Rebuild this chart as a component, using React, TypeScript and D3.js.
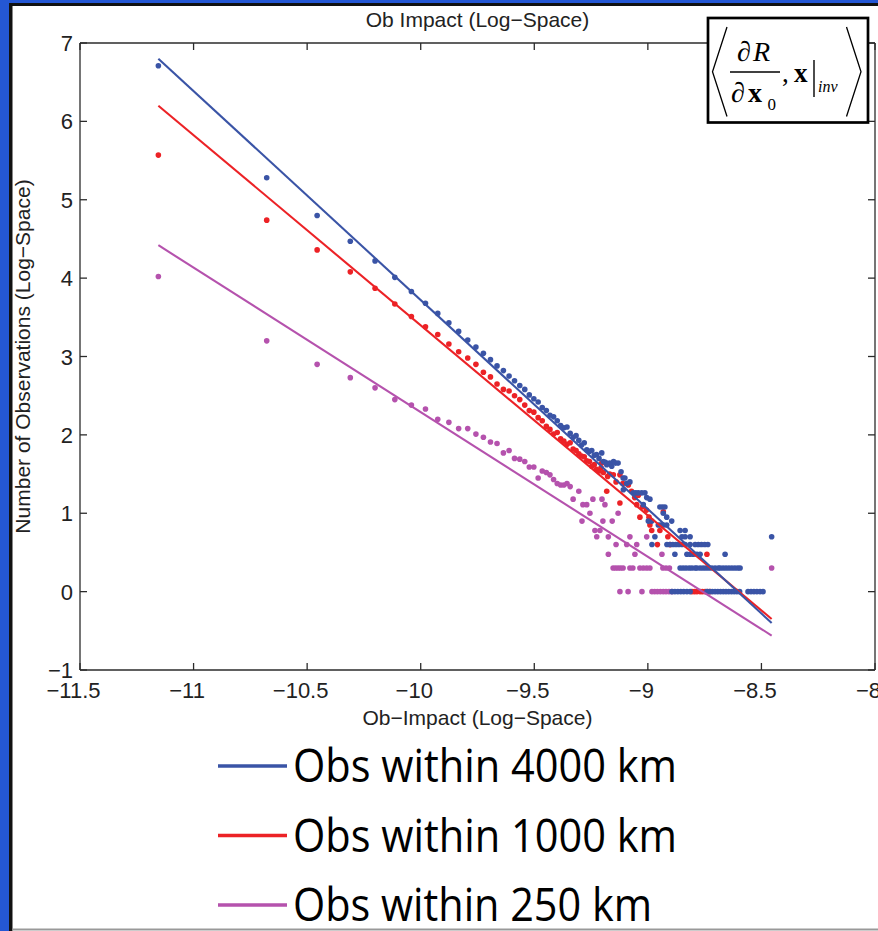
import React from 'react';
import * as d3 from 'd3';

// ---------- data (log10 space) ----------
const xTicks = [-11.5, -11, -10.5, -10, -9.5, -9, -8.5, -8];
const yTicks = [-1, 0, 1, 2, 3, 4, 5, 6, 7];

const fitX = [-11.155, -8.455];
const fit4000 = [6.8, -0.4];
const fit1000 = [6.2, -0.35];
const fit250 = [4.42, -0.56];

const legendLabels = ['Obs within 4000 km', 'Obs within 1000 km', 'Obs within 250 km'];

const obs4000: [number, number][] = [
  [-11.155, 6.71], [-10.678, 5.28], [-10.456, 4.8], [-10.31, 4.47], [-10.201, 4.22], [-10.114, 4.01],
  [-10.041, 3.83], [-9.979, 3.68], [-9.925, 3.55], [-9.876, 3.43], [-9.833, 3.32], [-9.793, 3.21],
  [-9.757, 3.12], [-9.724, 3.04], [-9.693, 2.96], [-9.664, 2.88], [-9.636, 2.82], [-9.611, 2.75],
  [-9.587, 2.69], [-9.564, 2.63], [-9.542, 2.58], [-9.522, 2.51], [-9.502, 2.46], [-9.483, 2.42],
  [-9.465, 2.35], [-9.447, 2.31], [-9.431, 2.25], [-9.415, 2.23], [-9.399, 2.18], [-9.384, 2.12],
  [-9.37, 2.09], [-9.356, 2.1], [-9.342, 2.02], [-9.329, 1.97], [-9.316, 1.99], [-9.304, 1.93],
  [-9.292, 1.87], [-9.28, 1.9], [-9.269, 1.81], [-9.257, 1.79], [-9.247, 1.8], [-9.236, 1.74],
  [-9.226, 1.75], [-9.215, 1.7], [-9.203, 1.77], [-9.196, 1.66], [-9.187, 1.65], [-9.181, 1.62],
  [-9.168, 1.64], [-9.159, 1.6], [-9.151, 1.66], [-9.142, 1.64], [-9.131, 1.64], [-9.118, 1.53],
  [-9.109, 1.45], [-9.101, 1.45], [-9.093, 1.38], [-9.079, 1.4], [-9.108, 1.3], [-9.064, 1.26],
  [-9.053, 1.26], [-9.042, 1.26], [-9.027, 1.26], [-9.013, 1.26], [-9.005, 1.2], [-8.991, 1.18],
  [-9.02, 1.11], [-8.947, 1.08], [-8.936, 1.08], [-8.925, 1.08], [-8.932, 1.0], [-8.917, 0.95],
  [-8.998, 0.9], [-8.983, 0.9], [-8.895, 0.9], [-8.954, 0.85], [-8.943, 0.85], [-8.932, 0.85],
  [-8.917, 0.85], [-8.858, 0.78], [-8.836, 0.78], [-8.969, 0.7], [-8.85, 0.7], [-8.836, 0.7],
  [-8.814, 0.7], [-8.455, 0.7],
  [-8.982, 0.602], [-8.916, 0.602], [-8.903, 0.602], [-8.89, 0.602], [-8.877, 0.602], [-8.864, 0.602],
  [-8.85, 0.602], [-8.836, 0.602], [-8.814, 0.602], [-8.792, 0.602], [-8.778, 0.602], [-8.764, 0.602],
  [-8.75, 0.602], [-8.736, 0.602],
  [-8.881, 0.477], [-8.828, 0.477], [-8.814, 0.477], [-8.8, 0.477], [-8.784, 0.477], [-8.77, 0.477],
  [-8.66, 0.477],
  [-8.858, 0.301], [-8.845, 0.301], [-8.832, 0.301], [-8.818, 0.301], [-8.806, 0.301], [-8.792, 0.301],
  [-8.784, 0.301], [-8.77, 0.301], [-8.757, 0.301], [-8.744, 0.301], [-8.731, 0.301], [-8.718, 0.301],
  [-8.704, 0.301], [-8.69, 0.301], [-8.682, 0.301], [-8.669, 0.301], [-8.656, 0.301], [-8.643, 0.301],
  [-8.63, 0.301], [-8.617, 0.301], [-8.604, 0.301], [-8.594, 0.301],
  [-8.894, 0], [-8.881, 0], [-8.868, 0], [-8.855, 0], [-8.842, 0], [-8.828, 0], [-8.814, 0],
  [-8.74, 0], [-8.728, 0], [-8.716, 0], [-8.704, 0], [-8.692, 0], [-8.68, 0], [-8.668, 0],
  [-8.656, 0], [-8.644, 0], [-8.632, 0], [-8.62, 0], [-8.608, 0], [-8.596, 0],
  [-8.559, 0], [-8.546, 0], [-8.533, 0], [-8.52, 0], [-8.506, 0], [-8.493, 0],
];

const obs1000: [number, number][] = [
  [-11.155, 5.57], [-10.678, 4.74], [-10.456, 4.36], [-10.31, 4.08], [-10.201, 3.87], [-10.114, 3.67],
  [-10.041, 3.51], [-9.979, 3.38], [-9.925, 3.28], [-9.876, 3.16], [-9.833, 3.06], [-9.793, 2.98],
  [-9.757, 2.9], [-9.724, 2.8], [-9.693, 2.74], [-9.664, 2.65], [-9.636, 2.58], [-9.611, 2.56],
  [-9.587, 2.5], [-9.564, 2.45], [-9.542, 2.38], [-9.522, 2.31], [-9.502, 2.29], [-9.483, 2.22],
  [-9.465, 2.18], [-9.447, 2.11], [-9.431, 2.07], [-9.415, 2.01], [-9.399, 2.03], [-9.384, 1.95],
  [-9.37, 1.92], [-9.356, 1.88], [-9.342, 1.9], [-9.329, 1.82], [-9.316, 1.8], [-9.304, 1.76],
  [-9.292, 1.73], [-9.28, 1.72], [-9.269, 1.67], [-9.257, 1.66], [-9.247, 1.6], [-9.236, 1.62],
  [-9.226, 1.56], [-9.215, 1.54], [-9.206, 1.58], [-9.203, 1.64], [-9.196, 1.52], [-9.181, 1.28],
  [-9.177, 1.47], [-9.168, 1.5], [-9.152, 1.49], [-9.14, 1.4], [-9.123, 1.49], [-9.123, 1.13],
  [-9.11, 1.38], [-9.086, 1.36], [-9.072, 1.28], [-9.058, 1.2], [-9.049, 1.11], [-9.042, 1.23],
  [-9.035, 0.95], [-9.024, 1.08], [-9.006, 1.04], [-8.995, 0.95], [-8.991, 0.85], [-8.983, 0.78],
  [-8.947, 0.78], [-8.932, 1.02], [-8.958, 0.6], [-8.912, 0.7], [-8.902, 0.6], [-8.74, 0.477],
  [-8.806, 0], [-8.795, 0], [-8.784, 0], [-8.77, 0], [-8.76, 0], [-8.748, 0], [-8.737, 0], [-8.726, 0],
];

const obs250: [number, number][] = [
  [-11.155, 4.02], [-10.678, 3.2], [-10.456, 2.9], [-10.31, 2.73], [-10.201, 2.6], [-10.114, 2.45],
  [-10.041, 2.38], [-9.979, 2.33], [-9.925, 2.2], [-9.876, 2.16], [-9.833, 2.08], [-9.793, 2.08],
  [-9.757, 2.01], [-9.724, 1.97], [-9.693, 1.91], [-9.664, 1.89], [-9.636, 1.77], [-9.611, 1.8],
  [-9.587, 1.7], [-9.564, 1.69], [-9.542, 1.66], [-9.522, 1.59], [-9.502, 1.59], [-9.483, 1.45],
  [-9.465, 1.54], [-9.447, 1.52], [-9.431, 1.49], [-9.415, 1.43], [-9.399, 1.38], [-9.384, 1.36],
  [-9.37, 1.36], [-9.356, 1.38], [-9.342, 1.34], [-9.329, 1.18], [-9.304, 1.28], [-9.286, 1.11],
  [-9.269, 1.11], [-9.29, 0.9], [-9.255, 1.0], [-9.242, 1.18], [-9.233, 0.78], [-9.225, 0.7],
  [-9.211, 0.78], [-9.202, 1.18], [-9.189, 1.11], [-9.198, 0.9], [-9.157, 0.9], [-9.131, 1.0],
  [-9.174, 0.699], [-9.079, 0.699], [-9.005, 0.699],
  [-9.14, 0.602], [-9.093, 0.602], [-9.049, 0.602],
  [-9.174, 0.477], [-9.057, 0.477], [-8.938, 0.477],
  [-9.153, 0.301], [-9.142, 0.301], [-9.131, 0.301], [-9.12, 0.301], [-9.109, 0.301], [-9.079, 0.301],
  [-9.066, 0.301], [-9.035, 0.301], [-9.02, 0.301], [-9.005, 0.301], [-8.991, 0.301], [-8.934, 0.301],
  [-8.92, 0.301], [-8.905, 0.301], [-8.455, 0.301],
  [-9.123, 0], [-9.087, 0], [-9.026, 0], [-8.982, 0], [-8.97, 0], [-8.958, 0], [-8.945, 0],
  [-8.932, 0], [-8.92, 0], [-8.907, 0], [-8.894, 0],
];

// ---------- styling ----------
const BLUE = '#3a54a6';
const RED = '#ec2226';
const MAG = '#b552ad';
const FRAME = '#2457d4';
const AXIS = '#2b2b2b';
const SANS = '"Liberation Sans", Arial, Helvetica, sans-serif';
const SERIF = '"Liberation Serif", "Times New Roman", serif';

const fmt = (v: number) => (v < 0 ? '\u2212' + String(Math.abs(v)) : String(v));

export default function App() {
  const W = 878;
  const H = 931;
  const x = d3.scaleLinear().domain([-11.5, -8]).range([80, 875]);
  const y = d3.scaleLinear().domain([-1, 7]).range([670, 43]);
  const [x0, x1] = x.range();
  const [yb, yt] = y.range();
  const tk = 7;

  const series = [
    { data: obs250, fit: fit250, color: MAG },
    { data: obs1000, fit: fit1000, color: RED },
    { data: obs4000, fit: fit4000, color: BLUE },
  ];
  const legend = [
    { label: legendLabels[0], color: BLUE, width: 384 },
    { label: legendLabels[1], color: RED, width: 384 },
    { label: legendLabels[2], color: MAG, width: 359 },
  ];
  const line = d3
    .line<[number, number]>()
    .x((d) => x(d[0]))
    .y((d) => y(d[1]));

  return (
    <svg
      width={W}
      height={H}
      style={{ position: 'absolute', left: 0, top: 0, display: 'block' }}
    >
      {/* frame */}
      <rect x={0} y={0} width={W} height={H} fill={FRAME} />
      <rect x={9} y={3} width={W} height={H} fill="#111" />
      <rect x={12.5} y={6} width={W} height={H} fill="#fff" />
      <line x1={12.5} x2={W} y1={929.5} y2={929.5} stroke="#999" strokeWidth={2} />

      {/* title */}
      <text x={477.5} y={27} textAnchor="middle" fontFamily={SANS} fontSize={21} fill="#222">
        Ob Impact (Log{'\u2212'}Space)
      </text>

      {/* axes box */}
      <g stroke={AXIS} strokeWidth={1.3} fill="none">
        <line x1={x0} x2={x0} y1={yt} y2={yb} />
        <line x1={x1} x2={x1} y1={yt} y2={yb} />
        <line x1={x0} x2={x1} y1={yt} y2={yt} />
        <line x1={x0} x2={x1} y1={yb} y2={yb} />
        {xTicks.map((t) => (
          <g key={'xt' + t}>
            <line x1={x(t)} x2={x(t)} y1={yb} y2={yb - tk} />
            <line x1={x(t)} x2={x(t)} y1={yt} y2={yt + tk} />
          </g>
        ))}
        {yTicks.map((t) => (
          <g key={'yt' + t}>
            <line x1={x0} x2={x0 + tk} y1={y(t)} y2={y(t)} />
            <line x1={x1} x2={x1 - tk} y1={y(t)} y2={y(t)} />
          </g>
        ))}
      </g>
      {xTicks.map((t) => (
        <text
          key={'xl' + t}
          x={x(t) - (t < 0 ? 6.5 : 0)}
          y={698}
          textAnchor="middle"
          fontFamily={SANS}
          fontSize={22}
          fill="#222"
        >
          {fmt(t)}
        </text>
      ))}
      {yTicks.map((t) => (
        <text
          key={'yl' + t}
          x={73}
          y={y(t) + 8}
          textAnchor="end"
          fontFamily={SANS}
          fontSize={22}
          fill="#222"
        >
          {fmt(t)}
        </text>
      ))}
      <text x={477.5} y={725} textAnchor="middle" fontFamily={SANS} fontSize={21} fill="#222">
        Ob{'\u2212'}Impact (Log{'\u2212'}Space)
      </text>
      <text
        transform="translate(30,356.5) rotate(-90)"
        textAnchor="middle"
        fontFamily={SANS}
        fontSize={21}
        fill="#222"
      >
        Number of Observations (Log{'\u2212'}Space)
      </text>

      {/* points */}
      {series.map((s, i) => (
        <g key={'pts' + i} fill={s.color}>
          {s.data.map((d, j) => (
            <circle key={j} cx={x(d[0])} cy={y(d[1])} r={2.8} />
          ))}
        </g>
      ))}
      {/* fit lines */}
      {series.map((s, i) => (
        <path
          key={'fit' + i}
          d={line([
            [fitX[0], s.fit[0]],
            [fitX[1], s.fit[1]],
          ]) as string}
          stroke={s.color}
          strokeWidth={2.1}
          fill="none"
        />
      ))}

      {/* equation box */}
      <g fill="#000">
        <rect x={708} y={18} width={160} height={104.5} fill="#fff" stroke="#000" strokeWidth={2.7} />
        <path d="M727,27 L712.5,71.7 L727,116.5" fill="none" stroke="#000" strokeWidth={1.3} />
        <path d="M846.5,27 L861,71.7 L846.5,116.5" fill="none" stroke="#000" strokeWidth={1.3} />
        <text x={737} y={61} fontFamily={SERIF} fontSize={28}>
          {'\u2202'}
        </text>
        <text x={753} y={61} fontFamily={SERIF} fontSize={28} fontStyle="italic">
          R
        </text>
        <line x1={730} x2={780} y1={72} y2={72} stroke="#000" strokeWidth={1.3} />
        <text x={731} y={102} fontFamily={SERIF} fontSize={28}>
          {'\u2202'}
        </text>
        <text x={748} y={102} fontFamily={SERIF} fontSize={28} fontWeight="bold">
          x
        </text>
        <text x={767.5} y={110} fontFamily={SERIF} fontSize={17}>
          0
        </text>
        <text x={782} y={82} fontFamily={SERIF} fontSize={27}>
          ,
        </text>
        <text x={794} y={82} fontFamily={SERIF} fontSize={27} fontWeight="bold">
          x
        </text>
        <line x1={814} x2={814} y1={60} y2={97} stroke="#000" strokeWidth={1.4} />
        <text x={818} y={91.5} fontFamily={SERIF} fontSize={16} fontStyle="italic">
          inv
        </text>
      </g>

      {/* legend */}
      {legend.map((l, i) => {
        const cy = 766 + i * 69.5;
        return (
          <g key={'lg' + i}>
            <line x1={218} x2={287} y1={cy} y2={cy} stroke={l.color} strokeWidth={3.5} />
            <text
              x={293}
              y={cy + 16}
              fontFamily={'"Open Sans", "Noto Sans", sans-serif'}
              fontSize={45}
              textLength={l.width}
              lengthAdjust="spacingAndGlyphs"
              fill="#000"
            >
              {l.label}
            </text>
          </g>
        );
      })}
    </svg>
  );
}
